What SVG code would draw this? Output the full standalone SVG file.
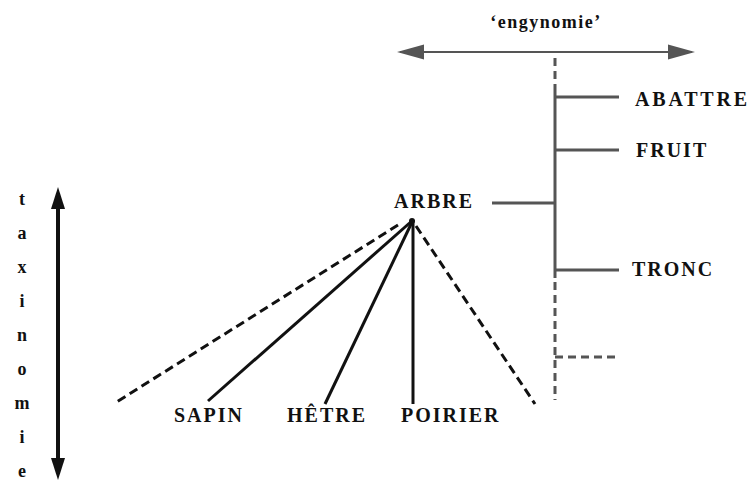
<svg xmlns="http://www.w3.org/2000/svg" width="751" height="483" viewBox="0 0 751 483">
<style>
text{font-family:"Liberation Serif","Times New Roman",serif;font-weight:bold;fill:#111}
.lbl{font-size:20px;letter-spacing:2px}
.tax{font-size:18px;text-anchor:middle}
.k{stroke:#111;stroke-width:3;fill:none}
.kd{stroke:#111;stroke-width:3;fill:none;stroke-dasharray:9 5}
.g{stroke:#555;stroke-width:3;fill:none}
.gd{stroke:#555;stroke-width:3;fill:none;stroke-dasharray:8 5}
</style>
<g id="connectors">
<line x1="400" y1="52" x2="692" y2="52" stroke="#555" stroke-width="2"/>
<path d="M397,52 L424,44.5 L424,59.5 z" fill="#555"/>
<path d="M695,52 L668,44.5 L668,59.5 z" fill="#555"/>
<line class="gd" x1="555" y1="58" x2="555" y2="90"/>
<line class="g" x1="555" y1="90" x2="555" y2="278"/>
<line class="gd" x1="555" y1="282" x2="555" y2="400"/>
<line class="g" x1="555" y1="97" x2="619" y2="97"/>
<line class="g" x1="555" y1="150" x2="619" y2="150"/>
<line class="g" x1="492" y1="203" x2="555" y2="203"/>
<line class="g" x1="555" y1="270" x2="619" y2="270"/>
<line class="gd" x1="555" y1="357" x2="619" y2="357"/>
<line x1="58" y1="200" x2="58" y2="466" stroke="#111" stroke-width="4"/>
<path d="M58,187 L51,209 L65,209 z" fill="#111"/>
<path d="M58,480 L51,458 L65,458 z" fill="#111"/>
<line class="kd" x1="398" y1="225" x2="115" y2="403"/>
<line class="k" x1="413" y1="220" x2="208" y2="401"/>
<line class="k" x1="413" y1="220" x2="325" y2="404"/>
<line class="k" x1="413" y1="220" x2="413" y2="404"/>
<line class="kd" x1="416" y1="226" x2="535" y2="404"/>
<circle cx="412" cy="221" r="3" fill="#111"/>
</g>
<g id="engynomie"><text x="546" y="28" style="font-size:18px;letter-spacing:1.5px" text-anchor="middle">‘engynomie’</text></g>
<g id="taxinomie">
<text class="tax" x="22" y="205">t</text>
<text class="tax" x="22" y="239">a</text>
<text class="tax" x="22" y="273">x</text>
<text class="tax" x="22" y="307">i</text>
<text class="tax" x="22" y="341">n</text>
<text class="tax" x="22" y="375">o</text>
<text class="tax" x="22" y="409">m</text>
<text class="tax" x="22" y="443">i</text>
<text class="tax" x="22" y="477">e</text>
</g>
<g id="arbre"><text class="lbl" x="394" y="208">ARBRE</text></g>
<g id="abattre"><text class="lbl" x="635" y="106" style="letter-spacing:2.8px">ABATTRE</text></g>
<g id="fruit"><text class="lbl" x="636" y="157">FRUIT</text></g>
<g id="tronc"><text class="lbl" x="632" y="276">TRONC</text></g>
<g id="sapin"><text class="lbl" x="174" y="422">SAPIN</text></g>
<g id="hetre"><text class="lbl" x="287" y="422">HÊTRE</text></g>
<g id="poirier"><text class="lbl" x="401" y="422">POIRIER</text></g>
</svg>
